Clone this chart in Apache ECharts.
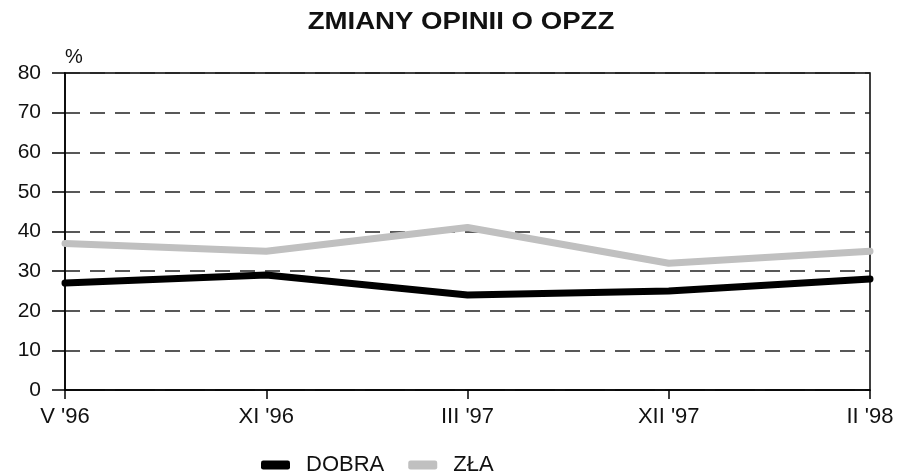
<!DOCTYPE html>
<html>
<head>
<meta charset="utf-8">
<script src="https://cdn.jsdelivr.net/npm/echarts@6/dist/echarts.min.js"></script>
<style>
html,body{margin:0;padding:0;background:#fff;}
#chart{width:900px;height:471px;}
</style>
</head>
<body>
<div id="chart"></div>
<script>
const titleText = "ZMIANY OPINII O OPZZ";
const categories = ["V '96", "XI '96", "III '97", "XII '97", "II '98"];
const seriesNames = ["DOBRA", "ZŁA"];
const dobra = [27, 29, 24, 25, 28];
const zla = [37, 35, 41, 32, 35];
const yMin = 0, yMax = 80, yInterval = 10;
const yUnit = "%";

const FONT = "'Liberation Sans', Arial, sans-serif";
const chart = echarts.init(document.getElementById('chart'), null, {renderer: 'canvas'});
chart.setOption({
  backgroundColor: '#fff',
  animation: false,
  graphic: [{
    type: 'text',
    x: 461,
    y: 22,
    originX: 0,
    originY: 0,
    scaleX: 1.15,
    style: {
      text: titleText,
      font: "bold 24px 'Liberation Sans', Arial, sans-serif",
      fill: '#111',
      textAlign: 'center',
      textVerticalAlign: 'middle'
    }
  }],
  grid: {
    left: 65, right: 30, top: 73, bottom: 81,
    show: true, borderColor: '#000', borderWidth: 1.5,
    containLabel: false
  },
  legend: {
    left: 256, top: 449,
    icon: 'roundRect',
    itemWidth: 29, itemHeight: 9,
    itemGap: 24,
    textStyle: {fontFamily: FONT, fontSize: 22, color: '#111', padding: [0,0,0,11]},
    data: seriesNames
  },
  xAxis: {
    type: 'category',
    data: categories,
    boundaryGap: false,
    axisLine: {show: true, lineStyle: {color: '#000', width: 1.5}},
    axisTick: {show: true, length: 9, lineStyle: {color: '#000', width: 1.5}},
    axisLabel: {fontFamily: FONT, fontSize: 22, color: '#111', margin: 16},
    splitLine: {show: false}
  },
  yAxis: {
    type: 'value',
    min: yMin, max: yMax, interval: yInterval,
    name: yUnit,
    nameLocation: 'end',
    nameGap: 6,
    nameTextStyle: {fontFamily: FONT, fontSize: 20, color: '#111', align: 'left'},
    axisLine: {show: true, lineStyle: {color: '#000', width: 1.5}},
    axisTick: {show: true, length: 13, lineStyle: {color: '#000', width: 1.5}},
    axisLabel: {fontFamily: FONT, fontSize: 21, color: '#111', margin: 24},
    splitLine: {show: true, lineStyle: {color: '#222', width: 1.5, type: [15, 10]}}
  },
  series: [
    {
      name: seriesNames[0], type: 'line', data: dobra,
      symbol: 'none', z: 3,
      lineStyle: {color: '#000', width: 7, cap: 'round', join: 'round'},
      itemStyle: {color: '#000'}
    },
    {
      name: seriesNames[1], type: 'line', data: zla,
      symbol: 'none', z: 2,
      lineStyle: {color: '#c0c0c0', width: 7, cap: 'round', join: 'round'},
      itemStyle: {color: '#c0c0c0'}
    }
  ]
});
</script>
</body>
</html>
